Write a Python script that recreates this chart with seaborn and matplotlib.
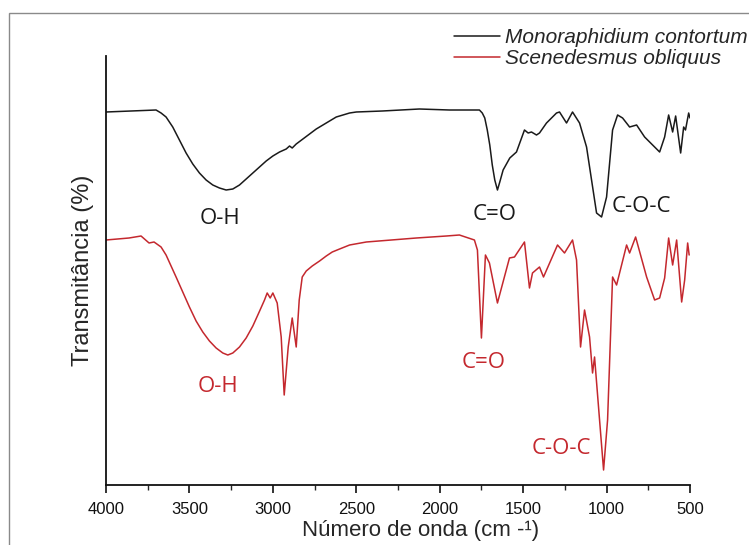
import matplotlib
matplotlib.use("Agg")
import matplotlib.pyplot as plt
from matplotlib.patches import Rectangle
from matplotlib.lines import Line2D
from matplotlib.ticker import MultipleLocator
import seaborn as sns
import pandas as pd

# wavenumber (cm-1) and transmittance (arbitrary units)
mono_wn = [4000, 3850, 3700, 3670, 3640, 3600, 3560, 3520, 3480, 3440, 3400, 3360,
           3320, 3280, 3240, 3200, 3160, 3120, 3080, 3040, 3000, 2960, 2920, 2900,
           2884, 2860, 2820, 2780, 2740, 2700, 2660, 2620, 2580, 2540, 2500, 2344,
           2122, 1942, 1762, 1745, 1730, 1715, 1700, 1685, 1670, 1654, 1640, 1620,
           1580, 1540, 1492, 1470, 1450, 1420, 1402, 1360, 1300, 1282, 1240, 1204,
           1162, 1120, 1090, 1060, 1030, 1000, 964, 934, 904, 862, 820, 772, 724,
           682, 652, 628, 604, 586, 556, 538, 527, 508, 500]
mono_t = [378, 379, 380, 377, 373, 363, 350, 337, 326, 317, 310, 305,
          302, 300, 301, 305, 311, 317, 323, 329, 334, 338, 341, 344,
          342, 346, 351, 356, 361, 365, 369, 373, 375, 377, 378, 379,
          381, 380, 380, 377, 372, 360, 345, 325, 310, 300, 308, 320,
          332, 338, 360, 357, 358, 355, 357, 367, 377, 378, 367, 378,
          367, 343, 310, 277, 273, 293, 360, 375, 372, 363, 365, 353, 345,
          338, 353, 375, 358, 374, 337, 363, 360, 377, 372]

scen_wn = [4000, 3862, 3790, 3742, 3712, 3670, 3640, 3610, 3580, 3540, 3500, 3460,
           3420, 3380, 3340, 3300, 3270, 3240, 3200, 3160, 3120, 3082, 3050, 3034,
           3016, 3000, 2974, 2950, 2932, 2908, 2884, 2860, 2842, 2824, 2800, 2764,
           2720, 2680, 2644, 2600, 2540, 2440, 2140, 1960, 1882, 1792, 1774, 1750,
           1726, 1702, 1654, 1582, 1552, 1492, 1462, 1444, 1402, 1378, 1294, 1252,
           1204, 1180, 1156, 1132, 1102, 1084, 1072, 1042, 1018, 994, 964, 940, 880,
           862, 826, 760, 712, 682, 652, 628, 604, 580, 550, 532, 514, 505]
scen_t = [250, 252, 254, 247, 248, 243, 235, 224, 213, 198, 183, 169,
          158, 149, 142, 137, 135, 137, 143, 152, 164, 178, 190, 197,
          192, 197, 187, 153, 95, 143, 172, 143, 190, 213, 219, 224,
          229, 234, 238, 241, 245, 248, 252, 254, 255, 250, 240, 152,
          235, 227, 187, 232, 233, 248, 202, 217, 223, 213, 245, 237,
          250, 230, 143, 180, 153, 117, 133, 70, 20, 70, 213, 205, 245,
          237, 253, 213, 190, 192, 212, 252, 225, 250, 188, 210, 247, 235]

species = ["Monoraphidium contortum", "Scenedesmus obliquus"]
colors = ["#1a1a1a", "#c4282e"]

# band labels: text, wavenumber, transmittance, series index
band_text = ["O-H", "C=O", "C-O-C", "O-H", "C=O", "C-O-C"]
band_wn = [3316, 1672, 790, 3328, 1738, 1270]
band_t = [272, 276, 283, 103, 127, 41]
band_series = [0, 0, 0, 1, 1, 1]

df = pd.concat([
    pd.DataFrame({"wn": mono_wn, "t": mono_t, "sp": species[0]}),
    pd.DataFrame({"wn": scen_wn, "t": scen_t, "sp": species[1]}),
])

sns.set_theme(style="ticks")
plt.rcParams["font.family"] = ["Liberation Sans", "DejaVu Sans"]

fig = plt.figure(figsize=(7.49, 5.45), dpi=100)
ax = fig.add_axes([106 / 749, 60 / 545, 584 / 749, 429 / 545])

sns.lineplot(data=df, x="wn", y="t", hue="sp", palette=dict(zip(species, colors)),
             sort=False, estimator=None, linewidth=1.1, legend=False, ax=ax)

ax.set_xlim(4000, 500)
ax.set_ylim(5, 434)
ax.set_yticks([])
ax.xaxis.set_major_locator(MultipleLocator(500))
ax.xaxis.set_minor_locator(MultipleLocator(250))
ax.tick_params(axis="x", which="major", direction="out", length=6, width=1.2,
               labelsize=12, pad=6, colors="#111111")
ax.tick_params(axis="x", which="minor", direction="out", length=3.5, width=1.0)
for s in ["top", "right"]:
    ax.spines[s].set_visible(False)
for s in ["left", "bottom"]:
    ax.spines[s].set_linewidth(1.3)
    ax.spines[s].set_color("#111111")

ax.set_xlabel("Número de onda (cm -¹)", fontsize=16)
ax.xaxis.set_label_coords(0.538, -0.082)
ax.set_ylabel("Transmitância (%)", fontsize=17, labelpad=9)

for txt, w, t, i in zip(band_text, band_wn, band_t, band_series):
    ax.text(w, t, txt, ha="center", va="center", fontsize=16,
            family=["Open Sans", "DejaVu Sans"], color=colors[i])

handles = [Line2D([], [], color=c, lw=1.1) for c in colors]
leg = fig.legend(handles, species, loc="upper left", bbox_to_anchor=(446 / 749, 1 - 20 / 545),
                 frameon=False, handlelength=2.2, handletextpad=0.25, labelspacing=0.1,
                 borderaxespad=0, prop={"size": 15, "style": "italic"})

fig.patches.append(Rectangle((9 / 749, -0.1), 1.2, 1.1 - 13 / 545, transform=fig.transFigure,
                             fill=False, edgecolor="#8a8a8a", linewidth=1.0))

fig.savefig("out.png", dpi=100)
